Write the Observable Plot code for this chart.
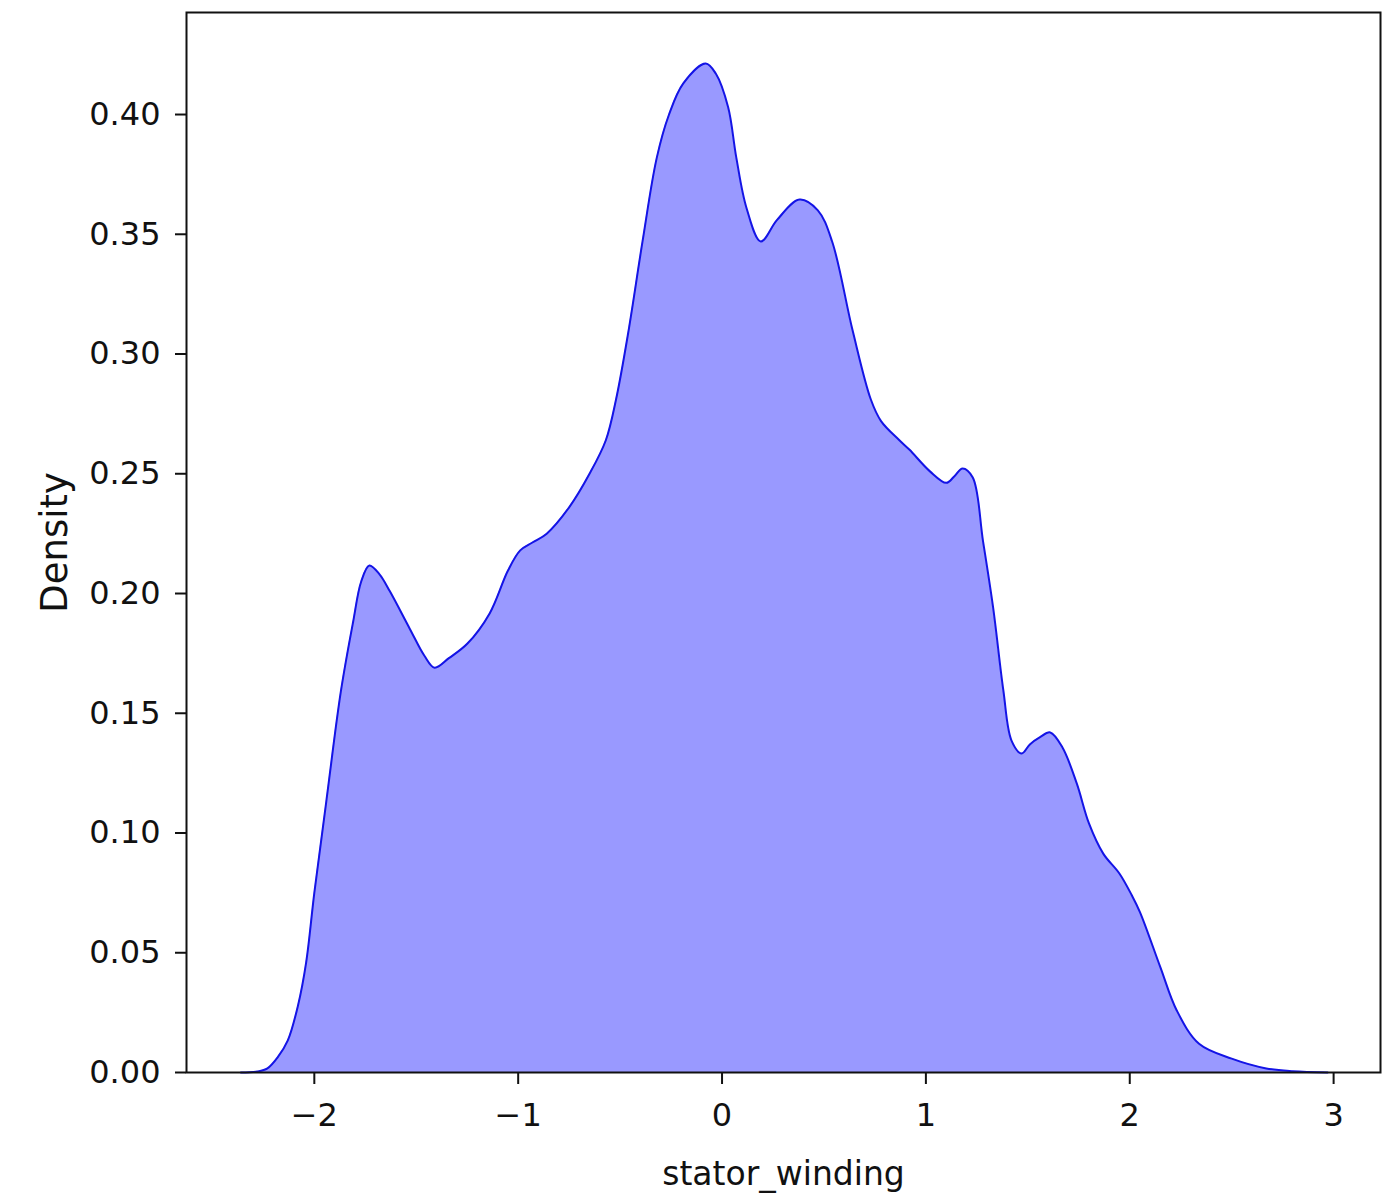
<!DOCTYPE html>
<html>
<head>
<meta charset="utf-8">
<script src="https://cdn.jsdelivr.net/npm/d3@7"></script>
<script src="https://cdn.jsdelivr.net/npm/@observablehq/plot@0.6"></script>
<style>
  html, body { margin: 0; padding: 0; background: #fff; }
</style>
</head>
<body>
<div id="chart"></div>
<script>
const xValues = [-2.36,-2.28,-2.23,-2.18,-2.13,-2.08,-2.04,-2.00,-1.94,-1.87,-1.81,-1.77,-1.73,-1.68,-1.63,-1.53,-1.46,-1.41,-1.34,-1.25,-1.14,-1.05,-0.99,-0.93,-0.86,-0.75,-0.65,-0.57,-0.52,-0.46,-0.39,-0.32,-0.26,-0.19,-0.08,-0.03,0.03,0.07,0.12,0.19,0.27,0.38,0.47,0.54,0.64,0.73,0.78,0.87,0.92,1.02,1.10,1.14,1.18,1.23,1.28,1.33,1.38,1.42,1.47,1.51,1.56,1.61,1.67,1.74,1.80,1.87,1.95,2.01,2.05,2.15,2.23,2.34,2.50,2.67,2.80,2.97];
const densityValues = [0.0000,0.0004,0.0017,0.0063,0.0134,0.0280,0.0460,0.0750,0.1140,0.1590,0.1880,0.2050,0.2117,0.2080,0.2010,0.1850,0.1740,0.1690,0.1730,0.1790,0.1917,0.2096,0.2180,0.2213,0.2250,0.2360,0.2500,0.2640,0.2810,0.3090,0.3470,0.3820,0.4000,0.4130,0.4213,0.4170,0.4030,0.3820,0.3610,0.3470,0.3560,0.3645,0.3600,0.3470,0.3100,0.2810,0.2720,0.2640,0.2600,0.2510,0.2462,0.2490,0.2522,0.2484,0.2220,0.1940,0.1595,0.1386,0.1332,0.1370,0.1400,0.1420,0.1357,0.1207,0.1040,0.0914,0.0830,0.0740,0.0670,0.0440,0.0260,0.0120,0.0058,0.0017,0.0005,0.0000];
const xTicks = [-2, -1, 0, 1, 2, 3];
const yTicks = [0, 0.05, 0.10, 0.15, 0.20, 0.25, 0.30, 0.35, 0.40];
const xLabel = "stator_winding";
const yLabel = "Density";

const data = xValues.map((x, i) => ({x, y: densityValues[i]}));
const fmtX = d => (d < 0 ? "\u2212" + Math.abs(d) : String(d));
const fmtY = d => d.toFixed(2);

const chart = Plot.plot({
  width: 1383,
  height: 1200,
  marginLeft: 186,
  marginRight: 3,
  marginTop: 12,
  marginBottom: 128,
  style: {fontFamily: "'DejaVu Sans', sans-serif", fontSize: "32px", background: "#fff", color: "#111"},
  x: {domain: [-2.627, 3.23]},
  y: {domain: [0, 0.4426]},
  marks: [
    Plot.areaY(data, {x: "x", y: "y", fill: "#9999ff", curve: "catmull-rom"}),
    Plot.lineY(data, {x: "x", y: "y", stroke: "#1414e6", strokeWidth: 2, curve: "catmull-rom"}),
    Plot.frame({stroke: "#111", strokeWidth: 2}),
    Plot.axisX({ticks: xTicks, tickFormat: fmtX, tickSize: 12, tickPadding: 19, strokeWidth: 2,
      label: xLabel, labelAnchor: "center", labelArrow: "none", labelOffset: 112}),
    Plot.axisY({ticks: yTicks, tickFormat: fmtY, tickSize: 11, tickPadding: 15, strokeWidth: 2,
      label: yLabel, labelAnchor: "center", labelArrow: "none", labelOffset: 146})
  ]
});
const xl = chart.querySelector('g[aria-label="x-axis label"]');
if (xl) xl.setAttribute("font-size", "33");
const yl = chart.querySelector('g[aria-label="y-axis label"]');
if (yl) yl.setAttribute("font-size", "37");
document.getElementById("chart").appendChild(chart);
</script>
</body>
</html>
